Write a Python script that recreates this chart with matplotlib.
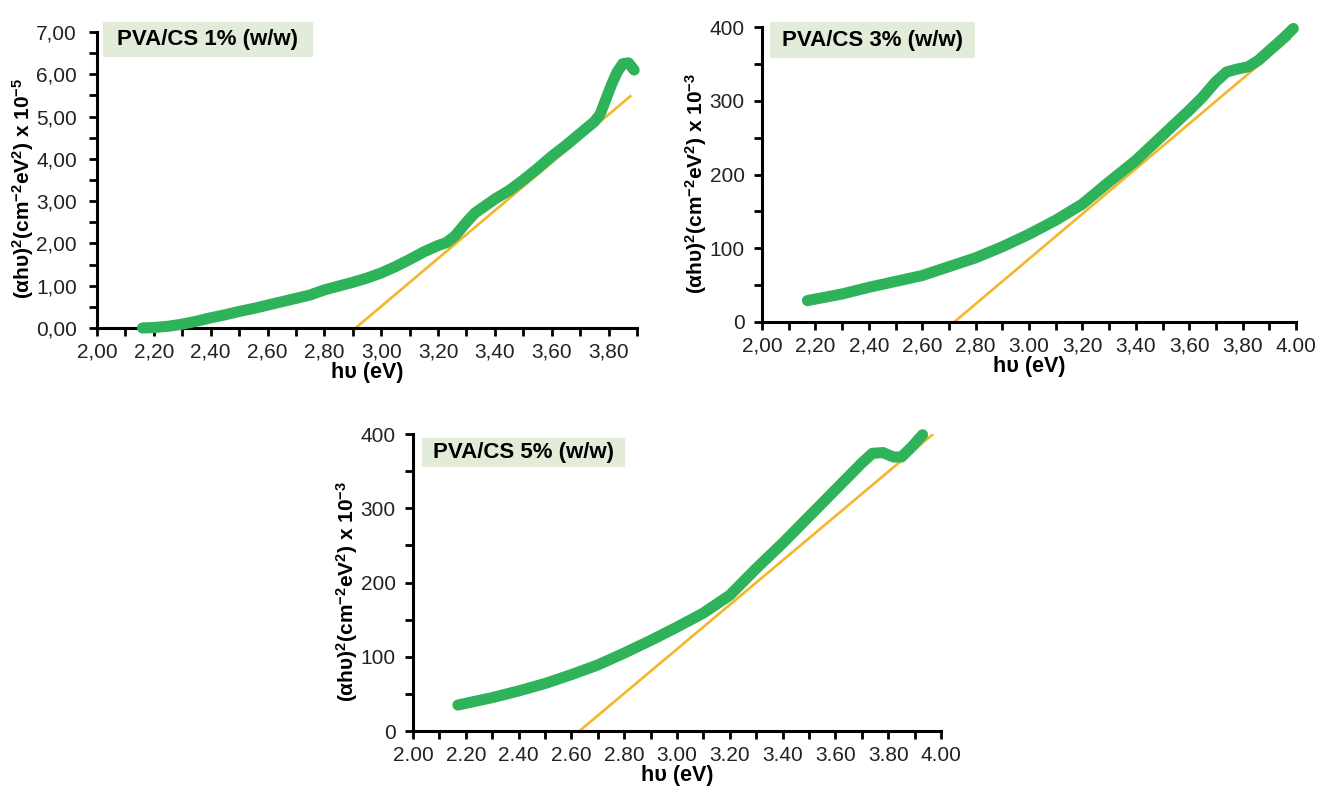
import matplotlib
matplotlib.use("Agg")
import matplotlib.pyplot as plt
from matplotlib.patches import Rectangle
from matplotlib.ticker import MultipleLocator, FixedLocator, FixedFormatter

plt.rcParams['font.family'] = ['Liberation Sans', 'DejaVu Sans']
plt.rcParams['mathtext.fontset'] = 'custom'
plt.rcParams['mathtext.rm'] = 'Liberation Sans'
plt.rcParams['mathtext.it'] = 'Liberation Sans:italic'
plt.rcParams['mathtext.bf'] = 'Liberation Sans:bold'

GREEN = "#2eb35a"
ORANGE = "#f4b62a"
BOX = "#e3ebd9"

# PVA/CS 1% (w/w), y in units of 10^-5
hv_1 = [2.16, 2.20, 2.25, 2.30, 2.35, 2.40, 2.45, 2.50, 2.55, 2.60, 2.65, 2.70,
        2.75, 2.80, 2.85, 2.90, 2.95, 3.00, 3.05, 3.10, 3.15, 3.20, 3.23, 3.26,
        3.30, 3.33, 3.36, 3.40, 3.45, 3.50, 3.55, 3.60, 3.65, 3.70, 3.75, 3.77,
        3.79, 3.81, 3.83, 3.85, 3.87, 3.89]
y_1 = [0.00, 0.01, 0.04, 0.09, 0.16, 0.24, 0.31, 0.39, 0.46, 0.54, 0.62, 0.70,
       0.78, 0.90, 0.99, 1.08, 1.18, 1.30, 1.45, 1.62, 1.80, 1.95, 2.02, 2.18,
       2.50, 2.72, 2.86, 3.05, 3.25, 3.50, 3.77, 4.06, 4.32, 4.60, 4.88, 5.05,
       5.40, 5.75, 6.05, 6.25, 6.27, 6.10]
fit_1_x = [2.91, 3.88]
fit_1_y = [0.00, 5.50]

# PVA/CS 3% (w/w), y in units of 10^-3
hv_3 = [2.17, 2.30, 2.40, 2.50, 2.60, 2.70, 2.80, 2.90, 3.00, 3.10, 3.20, 3.30,
        3.40, 3.50, 3.60, 3.65, 3.70, 3.74, 3.78, 3.82, 3.86, 3.90, 3.95, 3.99]
y_3 = [29, 38, 47, 55, 63, 75, 87, 102, 119, 138, 160, 190, 219, 253, 287, 305,
       326, 339, 343, 346, 355, 368, 384, 398]
fit_3_x = [2.72, 3.98]
fit_3_y = [0, 385]

# PVA/CS 5% (w/w), y in units of 10^-3
hv_5 = [2.17, 2.30, 2.40, 2.50, 2.60, 2.70, 2.80, 2.90, 3.00, 3.10, 3.20, 3.30,
        3.40, 3.50, 3.60, 3.70, 3.74, 3.78, 3.82, 3.85, 3.89, 3.93]
y_5 = [35, 45, 54, 64, 76, 89, 105, 122, 140, 159, 183, 219, 253, 289, 325, 361,
       374, 375, 369, 369, 383, 399]
fit_5_x = [2.63, 3.97]
fit_5_y = [0, 400]

labels = ["PVA/CS 1% (w/w)", "PVA/CS 3% (w/w)", "PVA/CS 5% (w/w)"]

xt_1 = ["2,00", "2,20", "2,40", "2,60", "2,80", "3,00", "3,20", "3,40", "3,60", "3,80"]
yt_1 = ["0,00", "1,00", "2,00", "3,00", "4,00", "5,00", "6,00", "7,00"]
xt_3 = ["2,00", "2,20", "2,40", "2,60", "2,80", "3.00", "3,20", "3,40", "3,60", "3,80", "4.00"]
xt_5 = ["2.00", "2.20", "2.40", "2.60", "2.80", "3.00", "3.20", "3.40", "3.60", "3.80", "4.00"]
yt_35 = ["0", "100", "200", "300", "400"]

fig = plt.figure(figsize=(13.18, 7.88), dpi=100)


def panel(rect, hv, y, fx, fy, xlim, ylim, xt, yt, ystep, ylab, label, box, ypad, ylab_x):
    ax = fig.add_axes(rect)
    ax.plot(fx, fy, color=ORANGE, lw=1.9, zorder=2, solid_capstyle='butt')
    ax.plot(hv, y, color=GREEN, lw=8, zorder=3, solid_capstyle='round',
            solid_joinstyle='round', clip_on=False)
    ax.set_xlim(*xlim)
    ax.set_ylim(*ylim)
    for s in ['top', 'right']:
        ax.spines[s].set_visible(False)
    for s in ['left', 'bottom']:
        ax.spines[s].set_linewidth(2.2)
    xpos = [2.0 + 0.2 * i for i in range(len(xt))]
    ax.xaxis.set_major_locator(FixedLocator(xpos))
    ax.xaxis.set_major_formatter(FixedFormatter(xt))
    ax.xaxis.set_minor_locator(MultipleLocator(0.1))
    ypos = [ystep * 2 * i for i in range(len(yt))]
    ax.yaxis.set_major_locator(FixedLocator(ypos))
    ax.yaxis.set_major_formatter(FixedFormatter(yt))
    ax.yaxis.set_minor_locator(MultipleLocator(ystep))
    ax.tick_params(which='both', direction='out', length=5.5, width=2.0,
                   labelsize=15, color='black', labelcolor='#222222')
    ax.tick_params(axis='x', which='both', pad=5)
    ax.tick_params(axis='y', which='both', pad=ypad)
    ax.set_xlabel("hυ (eV)", fontsize=15.5, fontweight='bold', labelpad=0)
    ax.set_ylabel(ylab, fontsize=15)
    ax.yaxis.set_label_coords(ylab_x, 0.47)
    x0, w, yb, yt_ = box
    ax.add_patch(Rectangle((x0, yb), w, yt_ - yb, transform=ax.transAxes,
                           fc=BOX, ec='none', clip_on=False, zorder=1))
    ax.text(x0 + w / 2, (yb + yt_) / 2, label, transform=ax.transAxes,
            fontsize=16, fontweight='bold', va='center', ha='center', zorder=4)
    return ax


ylab5 = r'$\mathbf{(\alpha h\upsilon)^2(cm^{-2}eV^2)\ x\ 10^{-5}}$'
ylab3 = r'$\mathbf{(\alpha h\upsilon)^2(cm^{-2}eV^2)\ x\ 10^{-3}}$'

panel([0.0736, 0.5838, 0.4097, 0.3756], hv_1, y_1, fit_1_x, fit_1_y,
      (2.0, 3.9), (0, 7), xt_1, yt_1, 0.5, ylab5, labels[0],
      (0.011, 0.389, 0.9155, 1.034), 9, -0.113)
panel([0.5782, 0.5914, 0.4051, 0.3743], hv_3, y_3, fit_3_x, fit_3_y,
      (2.0, 4.0), (0, 400), xt_3, yt_35, 50, ylab3, labels[1],
      (0.015, 0.384, 0.895, 1.017), 7, -0.100)
panel([0.3134, 0.0723, 0.4006, 0.3769], hv_5, y_5, fit_5_x, fit_5_y,
      (2.0, 4.0), (0, 400), xt_5, yt_35, 50, ylab3, labels[2],
      (0.017, 0.384, 0.889, 0.987), 7, -0.100)

fig.savefig("out.png", dpi=100)
